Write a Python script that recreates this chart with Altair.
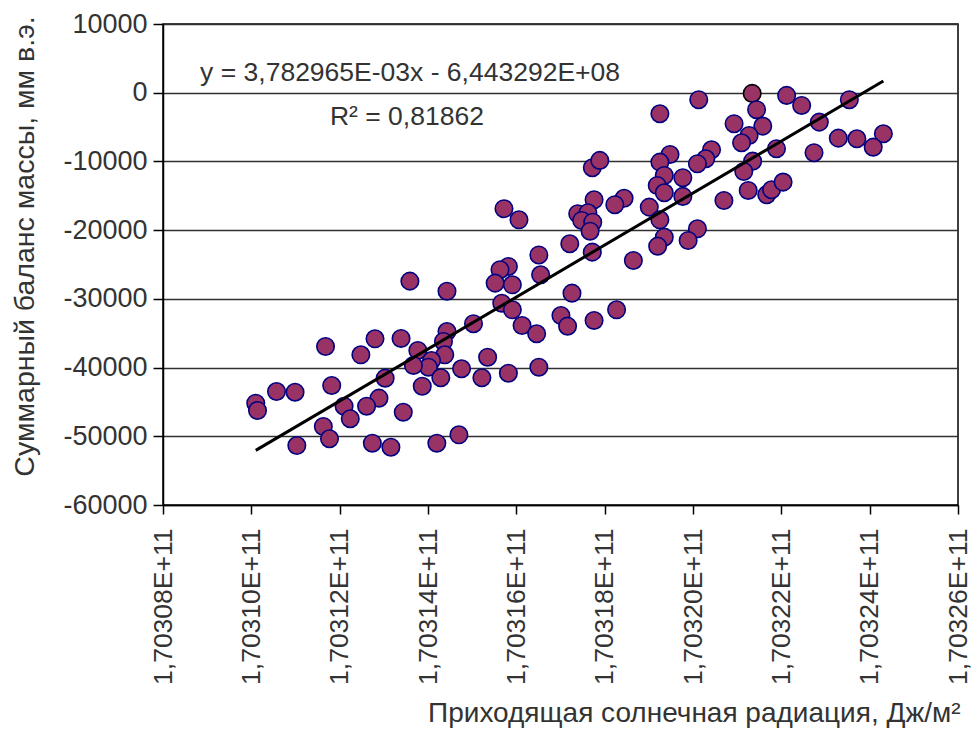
import altair as alt
import pandas as pd

# Incoming solar radiation, J/m^2 (in millions)
x_mln = [
    170313.59, 170314.43, 170311.68, 170312.80, 170312.48, 170313.39, 170313.77, 170314.43,
    170314.35, 170314.38, 170314.08, 170314.01, 170313.67, 170314.29, 170313.87, 170314.76,
    170313.03, 170311.82, 170310.57, 170310.99, 170310.10, 170310.14, 170312.10, 170312.89,
    170312.61, 170312.24, 170311.63, 170311.77, 170311.03, 170312.74, 170313.16, 170313.44,
    170314.20, 170314.70,
    170317.72, 170317.89, 170315.72, 170316.06, 170317.76, 170318.44, 170318.23, 170317.39,
    170317.62, 170317.48, 170317.73, 170317.67, 170317.21, 170317.72, 170318.65, 170316.51,
    170316.55, 170315.82, 170315.63, 170315.52, 170315.91, 170315.67, 170315.91, 170317.26,
    170316.13, 170316.46, 170315.03, 170317.01, 170317.16, 170317.76, 170318.27, 170315.35,
    170315.22, 170315.82, 170316.51,
    170321.34, 170322.12, 170322.46, 170323.54, 170320.13, 170319.25, 170321.44, 170320.93,
    170321.58, 170322.86, 170321.27, 170321.10, 170321.89, 170323.29, 170323.71, 170324.31,
    170324.08, 170322.74, 170321.35, 170321.15, 170320.42, 170320.29, 170320.10, 170319.48,
    170319.25, 170319.35, 170319.77, 170319.19, 170319.35, 170319.77, 170319.01, 170319.25,
    170320.70, 170321.25, 170321.67, 170321.78, 170322.04, 170320.10, 170319.89, 170319.35,
    170319.20,
]
# Total mass balance, mm w.e.
balance = [
    -27420, -28880, -36930, -35810, -38140, -35760, -37510, -34750,
    -36200, -38140, -38970, -39940, -39690, -41480, -42710, -40170,
    -41540, -42610, -43480, -43580, -45180, -46240, -45620, -44450,
    -45620, -47450, -48570, -50360, -51340, -51000, -51590, -46490,
    -51000, -49780,
    -10920, -9850, -16880, -18490, -15580, -15360, -16300, -17610,
    -17470, -18590, -18840, -20150, -21980, -23200, -24410, -23610,
    -26490, -25280, -25760, -27710, -27950, -30630, -31590, -29170,
    -33870, -35080, -33620, -32420, -33970, -33140, -31590, -38490,
    -41480, -40820, -39940,
    -100, -390, -1850, -1020, -1020, -3060, -2470, -4510,
    -4860, -4280, -6220, -7280, -8150, -6610, -6700, -5970,
    -7920, -8730, -9960, -11460, -8300, -9610, -10330, -8980,
    -10100, -12040, -12370, -13490, -14560, -15090, -16650, -18490,
    -15680, -14220, -14850, -14120, -13010, -19800, -21500, -21020,
    -22330,
]
highlight_index = 69  # point drawn with a black outline

slope = 3.782965e-03
intercept = -6.443292e08
equation_text = ["y = 3,782965E-03x - 6,443292E+08", "R² = 0,81862"]
equation_x_mln = [170308.84, 170311.78]
equation_y = [2810, -3600]

x_ticks = [1.70308e11 + 2e6 * i for i in range(10)]
y_ticks = [10000, 0, -10000, -20000, -30000, -40000, -50000, -60000]

FONT = "Liberation Sans"
TXT = "#333333"

pts = pd.DataFrame({
    "x": [v * 1e6 for v in x_mln],
    "y": balance,
    "edge": ["#000080"] * len(balance),
})
pts.loc[highlight_index, "edge"] = "#000000"

xmin, xmax = pts["x"].min(), pts["x"].max()
trend = pd.DataFrame({"x": [xmin, xmax],
                      "y": [slope * xmin + intercept, slope * xmax + intercept]})
ann = pd.DataFrame({"x": [v * 1e6 for v in equation_x_mln], "y": equation_y,
                    "t": equation_text})

xscale = alt.Scale(domain=[1.70308e11, 1.70326e11], nice=False, zero=False)
yscale = alt.Scale(domain=[-60000, 10000], nice=False, zero=False)

xaxis = alt.Axis(
    values=x_ticks, grid=False, labelAngle=270, labelAlign="right", labelBaseline="middle",
    labelExpr="replace(format(datum.value/1e11, '.5f'), '.', ',') + 'E+11'",
    labelFont=FONT, labelFontSize=26.5, labelColor=TXT, labelPadding=14,
    tickSize=9, tickColor="#000000", tickWidth=1.5, domainColor="#000000", domainWidth=1.5,
    title="Приходящая солнечная радиация, Дж/м²", titleFont=FONT, titleFontSize=28,
    titleFontWeight="normal", titleColor=TXT, titleX=797, titleY=208,
    titleAlign="right", titleBaseline="middle", titleAngle=0,
    labelOverlap=False, labelFlush=False,
)
yaxis = alt.Axis(
    values=y_ticks, grid=True, gridColor="#303030", gridWidth=1.6,
    labelExpr="'' + datum.value",
    labelFont=FONT, labelFontSize=27, labelColor=TXT, labelPadding=6,
    tickSize=10, tickColor="#000000", tickWidth=1.5, domainColor="#000000", domainWidth=1.5,
    title="Суммарный баланс массы, мм в.э.", titleFont=FONT, titleFontSize=28.5,
    titleFontWeight="normal", titleColor=TXT, titleX=-139, titleY=222,
    titleAngle=270, titleAlign="center", titleBaseline="middle",
    labelOverlap=False, labelFlush=False,
)

points = alt.Chart(pts).mark_point(
    shape="circle", filled=True, size=305, opacity=1, strokeWidth=1.6, fill="#993366"
).encode(
    x=alt.X("x:Q", scale=xscale, axis=xaxis),
    y=alt.Y("y:Q", scale=yscale, axis=yaxis),
    stroke=alt.Stroke("edge:N", scale=None),
)

line = alt.Chart(trend).mark_line(color="#000000", strokeWidth=3).encode(
    x=alt.X("x:Q", scale=xscale), y=alt.Y("y:Q", scale=yscale)
)

text = alt.Chart(ann).mark_text(
    align="left", baseline="middle", font=FONT, fontSize=26.5, color=TXT
).encode(x=alt.X("x:Q", scale=xscale), y=alt.Y("y:Q", scale=yscale), text="t:N")

chart = alt.layer(points, line, text).properties(
    width=795, height=481,
    autosize=alt.AutoSizeParams(type="none"),
    padding={"left": 163, "top": 24, "right": 17, "bottom": 233},
    background="#ffffff",
).configure_view(stroke="#000000", strokeWidth=1.5)

chart.save("out.html", embed_options={"renderer": "svg", "actions": False})
